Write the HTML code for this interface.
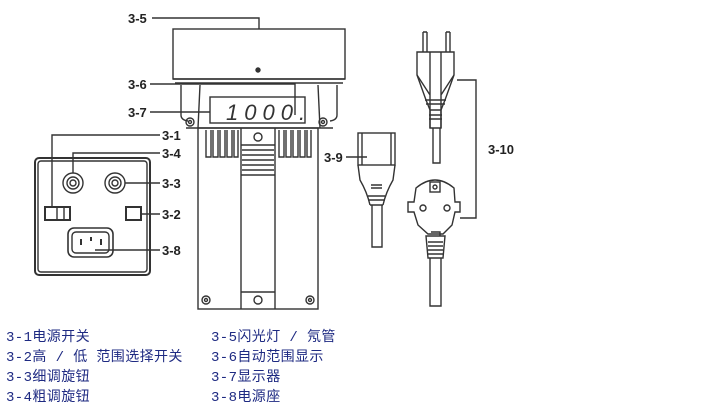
<!DOCTYPE html>
<html><head><meta charset="utf-8"><style>
html,body{margin:0;padding:0;background:#fff;width:707px;height:417px;overflow:hidden;position:relative}
svg{position:absolute;left:0;top:0}
.t{position:absolute;font-family:"Liberation Mono","Noto Sans CJK SC",monospace;font-size:14px;color:#1e2a82;line-height:20px;white-space:pre;letter-spacing:0.4px}
</style></head><body>
<svg width="707" height="417" viewBox="0 0 707 417" fill="none" stroke="#333" stroke-width="1.4">
<g font-family="Liberation Sans,sans-serif" font-weight="bold" font-size="13" fill="#222" stroke="none">
<text x="128" y="23">3-5</text><text x="128" y="89">3-6</text><text x="128" y="117">3-7</text>
<text x="162" y="140">3-1</text><text x="162" y="158">3-4</text><text x="162" y="188">3-3</text>
<text x="162" y="219">3-2</text><text x="162" y="255">3-8</text><text x="324" y="162">3-9</text>
<text x="488" y="154">3-10</text>
</g>
<path d="M152 18H259V29M150 84H295V115M150 112H210M160 135H52V207M160 153H73V173M160 183H125M160 214H141M160 250H95M346 157H367M457 80H476V218H460"/>
<rect x="173" y="29" width="172" height="50"/>
<path d="M173 79H345M175 83H343"/>
<circle cx="258" cy="70" r="2" fill="#333"/>
<path d="M181 85V115Q181 120 188 121M337 85V115Q337 120 330 121M200 85L198 128M318 85L320 128M186 128H333"/>
<rect x="210" y="97" width="95" height="26"/>
<text x="226" y="120" font-family="Liberation Sans,sans-serif" font-style="italic" font-size="22" fill="#333" stroke="none" letter-spacing="6">1000.</text>
<circle cx="190" cy="122" r="4"/><circle cx="190" cy="122" r="1.5"/>
<circle cx="323" cy="122" r="4"/><circle cx="323" cy="122" r="1.5"/>
<rect x="198" y="128" width="120" height="181"/>
<path d="M241 128V309M275 128V309M241 145H275M241 175H275M241 292H275"/>
<path d="M242 150H274M242 155H274M242 160H274M242 165H274M242 170H274" stroke-width="1.5"/>
<circle cx="258" cy="137" r="4"/><circle cx="258" cy="300" r="4"/>
<path d="M206 130V157H211V130M213 130V157H218V130M220 130V157H225V130M227 130V157H232V130M234 130V157H238V130"/>
<path d="M279 130V157H284V130M286 130V157H291V130M293 130V157H298V130M300 130V157H305V130M307 130V157H311V130"/>
<circle cx="206" cy="300" r="4"/><circle cx="206" cy="300" r="1.5"/>
<circle cx="310" cy="300" r="4"/><circle cx="310" cy="300" r="1.5"/>
<rect x="35" y="158" width="115" height="117" rx="4" stroke-width="2"/>
<rect x="38" y="161" width="109" height="111" rx="3"/>
<circle cx="73" cy="183" r="10"/><circle cx="73" cy="183" r="6"/><circle cx="73" cy="183" r="3"/>
<circle cx="115" cy="183" r="10"/><circle cx="115" cy="183" r="6"/><circle cx="115" cy="183" r="3"/>
<rect x="45" y="207" width="25" height="13" stroke-width="2"/><path d="M57 208V219M64 208V219"/>
<rect x="126" y="207" width="15" height="13" stroke-width="2"/>
<rect x="68" y="228" width="45" height="29" rx="6" stroke-width="1.6"/>
<rect x="72" y="232" width="37" height="21" rx="4"/>
<path d="M81 239V245M91 237V241M101 239V245" stroke-width="2"/>
<rect x="358" y="133" width="37" height="32"/>
<path d="M362 133V165M391 133V165M358 165L360 180Q367 192 370 205M395 165L393 180Q386 192 383 205M370 205H383M372 205V247H382V205M371 185H382M371 188H382M368 196H385M368 200H385"/>
<path d="M423 32V52M427 32V52M423 32H427M446 32V52M450 32V52M446 32H450"/>
<path d="M417 52H454V75L445 100L441 110V128H430V110L426 100L417 75Z"/>
<path d="M430 52V128M441 52V128M417 75L430 95M454 75L441 95M425 100H446M426 104H445M430 110H441M429 115H442M429 119H442M433 128V163H440V128"/>
<path d="M416 188Q435 172 454 188L455 202H460V212H455L452 225L443 234H428L418 225L414 212H408V202H414Z"/>
<rect x="430" y="182" width="10" height="10"/><circle cx="435" cy="187" r="2"/>
<circle cx="423" cy="208" r="3"/><circle cx="447" cy="208" r="3"/>
<path d="M431 232H440V236M426 236H445L443 258H428ZM428 242H443M428 246H443M428 250H443M428 254H443M430 258V306H441V258"/>
</svg>
<div class="t" style="left:6px;top:328px">3-1电源开关
3-2高 / 低 范围选择开关
3-3细调旋钮
3-4粗调旋钮</div>
<div class="t" style="left:211px;top:328px">3-5闪光灯 / 氖管
3-6自动范围显示
3-7显示器
3-8电源座</div>
</body></html>
